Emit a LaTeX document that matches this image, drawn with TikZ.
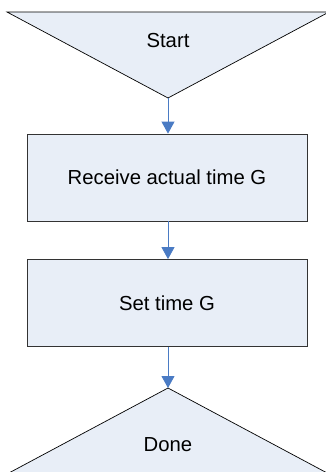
\documentclass[tikz,border=0pt]{standalone}
\usepackage{fontspec}
\setmainfont{Liberation Sans}
\usetikzlibrary{arrows.meta,calc,positioning}
\definecolor{FlowFill}{HTML}{E8EEF7}
\definecolor{FlowLine}{HTML}{4A7BC4}
\tikzset{
  flbox/.style={draw=black!80, fill=FlowFill, line width=0.8pt, minimum width=280pt, minimum height=87pt, inner sep=0pt, font=\fontsize{20.3}{24}\selectfont},
  fltri/.style={draw=black, fill=FlowFill, line width=0.7pt, line join=miter},
  fltext/.style={inner sep=0pt, font=\fontsize{20.3}{24}\selectfont},
  flarrow/.style={-{Triangle[length=12pt,width=13pt]}, line width=0.8pt, draw=FlowLine!70, color=FlowLine}
}
\begin{document}
\begin{tikzpicture}[x=1pt,y=-1pt]
  \useasboundingbox (0,0) rectangle (326,472);
  % start / done triangles
  \draw[fltri] (7,12) -- (329,12) -- (168,98) -- cycle;
  \coordinate (startTip) at (168,98);
  \node[fltext] (start) at (168,41) {Start};
  \draw[fltri] (168,388) -- (329,474) -- (7,474) -- cycle;
  \coordinate (doneTip) at (168,388);
  \node[fltext] (done) at (168,445) {Done};
  % steps
  \node[flbox] (recv) at (167,177.5) {Receive actual time G};
  \node[flbox] (settime) at (167,303) {Set time G};
  \draw[flarrow] (startTip) -- (recv.north -| startTip);
  \draw[flarrow] (recv.south -| startTip) -- (settime.north -| startTip);
  \draw[flarrow] (settime.south -| startTip) -- (doneTip);
\end{tikzpicture}
\end{document}
